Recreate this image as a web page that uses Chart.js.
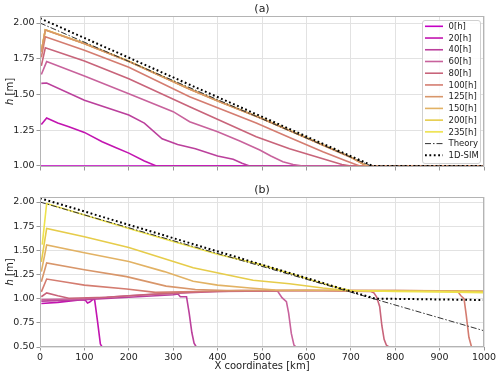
<!DOCTYPE html>
<html>
<head>
<meta charset="utf-8">
<script src="https://cdn.jsdelivr.net/npm/chart.js@4.4.0/dist/chart.umd.min.js"></script>
<style>
html, body { margin: 0; padding: 0; background: #fff; }
#wrapA { position: absolute; left: 0; top: 0; width: 500px; height: 178px; }
#wrapB { position: absolute; left: 0; top: 178px; width: 500px; height: 196px; }
</style>
</head>
<body>
<div id="wrapA"><canvas id="chartA"></canvas></div>
<div id="wrapB"><canvas id="chartB"></canvas></div>
<script>
// Data

const hours = ["0[h]", "20[h]", "40[h]", "60[h]", "80[h]", "100[h]", "125[h]", "150[h]", "200[h]", "235[h]"];
const lineColors = ["#c400c4", "#c214b0", "#bb409c", "#c8629c", "#c8647a", "#d47c70", "#d8966a", "#e2b264", "#e6cc4a", "#eee24c"];

const xTicks = [0, 100, 200, 300, 400, 500, 600, 700, 800, 900, 1000];
const yTicksA = [1.00, 1.25, 1.50, 1.75, 2.00];
const yTicksB = [0.50, 0.75, 1.00, 1.25, 1.50, 1.75, 2.00];

// panel (a): [x km, h m]
const a0 = [[0, 1.0], [1000, 1.0]];
const a20 = [[3, 1.29], [15, 1.335], [40, 1.30], [65, 1.275], [100, 1.235], [140, 1.17], [170, 1.13], [200, 1.09], [235, 1.035], [262, 1.0], [1000, 1.0]];
const a40 = [[3, 1.578], [15, 1.58], [100, 1.46], [200, 1.357], [235, 1.30], [275, 1.19], [310, 1.15], [350, 1.12], [400, 1.07], [435, 1.047], [455, 1.02], [472, 1.0], [1000, 1.0]];
const a60 = [[3, 1.64], [15, 1.73], [100, 1.63], [200, 1.505], [300, 1.38], [337, 1.31], [400, 1.24], [450, 1.175], [495, 1.112], [520, 1.07], [547, 1.03], [570, 1.01], [592, 1.0], [1000, 1.0]];
const a80 = [[3, 1.70], [12, 1.827], [100, 1.735], [200, 1.61], [337, 1.415], [487, 1.205], [562, 1.12], [637, 1.05], [680, 1.01], [700, 1.0], [1000, 1.0]];
const a100 = [[3, 1.76], [12, 1.904], [100, 1.81], [200, 1.69], [337, 1.485], [487, 1.30], [562, 1.20], [637, 1.10], [690, 1.035], [720, 1.0], [1000, 1.0]];
const a125 = [[3, 1.80], [12, 1.951], [100, 1.855], [200, 1.73], [337, 1.536], [400, 1.455], [500, 1.33], [600, 1.195], [700, 1.06], [735, 1.0], [1000, 1.0]];
const a150 = [[3, 1.80], [12, 1.953], [100, 1.857], [200, 1.732], [337, 1.538], [400, 1.457], [500, 1.332], [600, 1.197], [700, 1.062], [736, 1.0], [1000, 1.0]];
const a200 = [[3, 1.80], [12, 1.953], [100, 1.857], [200, 1.732], [337, 1.538], [400, 1.457], [500, 1.332], [600, 1.197], [700, 1.062], [736, 1.0], [1000, 1.0]];
const a235 = [[3, 1.80], [12, 1.953], [100, 1.857], [200, 1.732], [337, 1.538], [400, 1.457], [500, 1.332], [600, 1.197], [700, 1.062], [736, 1.0], [1000, 1.0]];
const aTheory = [[0, 2.0], [746, 1.0], [1000, 1.0]];
const aSim = [[0, 2.033], [750, 1.0], [1000, 1.0]];

// panel (b)
const b0 = [[0, 0.5], [1000, 0.5]];
const b20 = [[3, 0.95], [40, 0.962], [94, 0.99], [102, 0.985], [107, 0.955], [112, 0.965], [120, 0.995], [123, 0.99], [130, 0.75], [136, 0.53], [140, 0.5], [1000, 0.5]];
const b40 = [[3, 0.975], [100, 0.99], [200, 1.015], [300, 1.04], [311, 1.048], [316, 1.02], [330, 1.02], [336, 0.85], [342, 0.65], [347, 0.54], [352, 0.5], [1000, 0.5]];
const b60 = [[3, 0.99], [100, 1.0], [200, 1.03], [300, 1.055], [400, 1.075], [535, 1.08], [545, 1.01], [555, 0.97], [560, 0.85], [566, 0.64], [572, 0.52], [577, 0.5], [1000, 0.5]];
const b80 = [[3, 1.02], [15, 1.06], [40, 1.03], [65, 1.005], [150, 1.015], [250, 1.045], [350, 1.07], [450, 1.08], [600, 1.085], [745, 1.075], [752, 1.06], [758, 1.02], [765, 0.92], [770, 0.72], [775, 0.58], [780, 0.52], [786, 0.5], [1000, 0.5]];
const b100 = [[3, 1.07], [15, 1.203], [60, 1.17], [100, 1.14], [195, 1.10], [260, 1.065], [350, 1.075], [450, 1.085], [600, 1.085], [800, 1.085], [940, 1.078], [948, 1.03], [955, 1.0], [960, 0.83], [966, 0.6], [972, 0.5], [1000, 0.5]];
const b125 = [[3, 1.175], [15, 1.37], [100, 1.30], [195, 1.228], [284, 1.13], [350, 1.095], [420, 1.085], [600, 1.085], [800, 1.085], [1000, 1.08]];
const b150 = [[3, 1.28], [15, 1.555], [100, 1.475], [200, 1.385], [280, 1.28], [345, 1.18], [400, 1.14], [473, 1.11], [530, 1.09], [700, 1.085], [850, 1.08], [1000, 1.075]];
const b200 = [[3, 1.38], [15, 1.727], [100, 1.64], [200, 1.53], [345, 1.32], [450, 1.22], [480, 1.19], [562, 1.155], [637, 1.11], [690, 1.085], [800, 1.08], [900, 1.075], [1000, 1.07]];
const b235 = [[5, 1.56], [15, 1.985], [100, 1.865], [200, 1.727], [300, 1.592], [400, 1.46], [490, 1.36], [562, 1.262], [620, 1.18], [675, 1.107], [700, 1.085], [800, 1.075], [900, 1.07], [1000, 1.062]];
const bTheory = [[0, 2.0], [1000, 0.668]];
const bSim = [[0, 2.04], [755, 1.0], [800, 0.998], [1000, 0.986]];

const seriesA = [a0, a20, a40, a60, a80, a100, a125, a150, a200, a235];
const seriesB = [b0, b20, b40, b60, b80, b100, b125, b150, b200, b235];

// Setup

const FONT = "'DejaVu Sans', 'Liberation Sans', sans-serif";

function toPoints(pairs) {
    return pairs.map(p => ({ x: p[0], y: p[1] }));
}

function buildDatasets(series, theory, sim, panel) {
    const sets = series.map((s, i) => ({
        label: hours[i],
        data: toPoints(s),
        borderColor: lineColors[i],
        borderWidth: 1.6,
        // later series drawn on top, like the original; in (a) the 150-235 h runs sit under 125 h
        order: (panel === "a" && i >= 7) ? 1 : -i
    }));
    sets.push({
        label: "Theory",
        data: toPoints(theory),
        borderColor: "#333333",
        borderWidth: 1,
        borderDash: [6, 2, 1.5, 2],
        order: -10
    });
    sets.push({
        label: "1D-SIM",
        data: toPoints(sim),
        borderColor: "#000000",
        borderWidth: 2,
        borderDash: [1.8, 2.6],
        order: -11
    });
    return sets;
}

// Plugins

const frame = {
    id: "frame",
    afterDatasetsDraw(chart) {
        const a = chart.chartArea, ctx = chart.ctx;
        ctx.save();
        ctx.strokeStyle = "#b4b4b4";
        ctx.lineWidth = 1;
        ctx.strokeRect(a.left + 0.5, a.top + 0.5, a.right - a.left - 1, a.bottom - a.top - 1);
        ctx.restore();
    }
};

const texts = {
    id: "texts",
    afterDraw(chart, args, opts) {
        const a = chart.chartArea, ctx = chart.ctx;
        const cx = (a.left + a.right) / 2;
        ctx.save();
        ctx.fillStyle = "#222";
        ctx.textAlign = "center";
        ctx.textBaseline = "middle";
        ctx.font = "11px " + FONT;
        ctx.fillText(opts.title, cx, opts.titleY);

        // y label: italic h + [m]
        ctx.save();
        ctx.translate(10, (a.top + a.bottom) / 2);
        ctx.rotate(-Math.PI / 2);
        ctx.font = "italic 10px " + FONT;
        const w1 = ctx.measureText("h").width;
        ctx.font = "10px " + FONT;
        const w2 = ctx.measureText(" [m]").width;
        ctx.textAlign = "left";
        ctx.font = "italic 10px " + FONT;
        ctx.fillText("h", -(w1 + w2) / 2, 0);
        ctx.font = "10px " + FONT;
        ctx.fillText(" [m]", -(w1 + w2) / 2 + w1, 0);
        ctx.restore();

        if (opts.xTitle) {
            ctx.font = "10px " + FONT;
            ctx.fillText(opts.xTitle, cx, opts.xTitleY);
        }
        ctx.restore();
    }
};

const legendBox = {
    id: "legendBox",
    afterDraw(chart, args, opts) {
        if (!opts.show) return;
        const ctx = chart.ctx;
        const sets = chart.data.datasets;
        const x0 = 422.5, y0 = 20.5, w = 58, rowH = 11.73;
        const h = 143;
        ctx.save();
        ctx.beginPath();
        ctx.roundRect(x0, y0, w, h, 2.5);
        ctx.fillStyle = "rgba(255,255,255,0.85)";
        ctx.fill();
        ctx.strokeStyle = "#d0d0d0";
        ctx.lineWidth = 1;
        ctx.stroke();
        ctx.font = "8.5px " + FONT;
        ctx.textBaseline = "middle";
        ctx.textAlign = "left";
        sets.forEach((d, i) => {
            const y = 26.3 + i * rowH;
            ctx.strokeStyle = d.borderColor;
            ctx.lineWidth = d.borderWidth;
            ctx.setLineDash(d.borderDash || []);
            ctx.beginPath();
            ctx.moveTo(425, y);
            ctx.lineTo(443, y);
            ctx.stroke();
            ctx.setLineDash([]);
            ctx.fillStyle = "#222";
            ctx.fillText(d.label, 448.5, y + 0.5);
        });
        ctx.restore();
    }
};

// Config

function makeConfig(panel) {
    const isA = panel === "a";
    const yTicks = isA ? yTicksA : yTicksB;
    return {
        type: "line",
        data: {
            datasets: isA ? buildDatasets(seriesA, aTheory, aSim, "a") : buildDatasets(seriesB, bTheory, bSim, "b")
        },
        options: {
            responsive: true,
            maintainAspectRatio: false,
            animation: false,
            events: [],
            layout: { padding: { top: isA ? 16 : 19, right: 16, left: 0, bottom: 0 } },
            elements: {
                point: { radius: 0 },
                line: { tension: 0, fill: false }
            },
            plugins: {
                legend: { display: false },
                tooltip: { enabled: false },
                texts: {
                    title: isA ? "(a)" : "(b)",
                    titleY: isA ? 9 : 12,
                    xTitle: isA ? null : "X coordinates [km]",
                    xTitleY: 188
                },
                legendBox: { show: isA }
            },
            scales: {
                x: {
                    type: "linear",
                    min: 0,
                    max: 1000,
                    afterBuildTicks: s => { s.ticks = xTicks.map(v => ({ value: v })); },
                    afterFit: s => { s.height = isA ? 11 : 27; },
                    ticks: {
                        display: !isA,
                        maxRotation: 0,
                        padding: 1,
                        color: "#222",
                        font: { family: FONT, size: 9.5 },
                        callback: v => String(v)
                    },
                    grid: { color: "#e2e2e2", lineWidth: 1, tickLength: 3.5, tickColor: "#999" },
                    border: { display: false }
                },
                y: {
                    type: "linear",
                    min: isA ? 0.993 : 0.5,
                    max: isA ? 2.049 : 2.052,
                    afterBuildTicks: s => { s.ticks = yTicks.map(v => ({ value: v })); },
                    afterFit: s => { s.width = 40; },
                    ticks: {
                        padding: 2,
                        color: "#222",
                        font: { family: FONT, size: 9.5 },
                        callback: v => v.toFixed(2)
                    },
                    grid: { color: "#e2e2e2", lineWidth: 1, tickLength: 3.5, tickColor: "#999" },
                    border: { display: false }
                }
            }
        },
        plugins: [frame, texts, legendBox]
    };
}

// Render init block

const chartA = new Chart(document.getElementById("chartA"), makeConfig("a"));
const chartB = new Chart(document.getElementById("chartB"), makeConfig("b"));
</script>
</body>
</html>
